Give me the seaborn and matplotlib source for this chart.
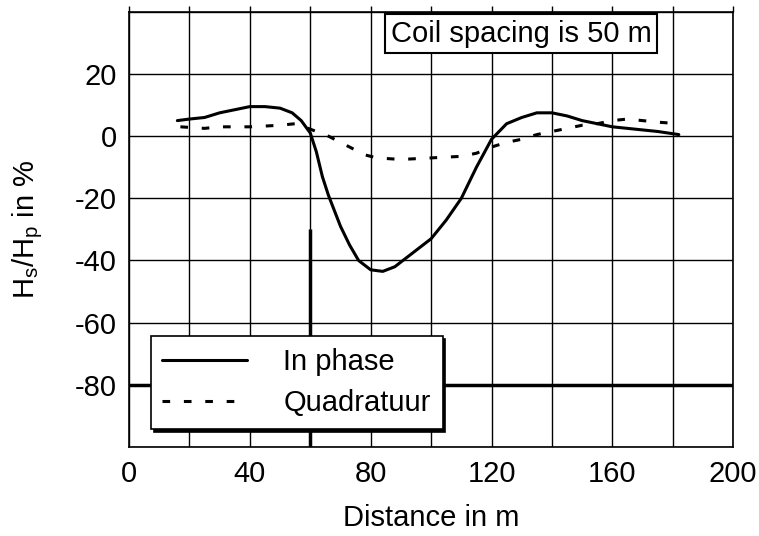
import numpy as np
import pandas as pd
import seaborn as sns
import matplotlib.pyplot as plt

# in phase component
x_inphase = [16, 20, 25, 30, 35, 40, 45, 50, 54, 57, 60, 62, 64, 66, 68, 70, 73, 76,
             80, 84, 88, 92, 96, 100, 105, 110, 115, 120, 125, 130, 135, 140, 145,
             150, 155, 160, 165, 170, 175, 182]
y_inphase = [5, 5.5, 6, 7.5, 8.5, 9.5, 9.5, 9, 7.5, 5, 1, -5, -13, -19, -24, -29, -35, -40,
             -43, -43.5, -42, -39, -36, -33, -27, -20, -10, -1, 4, 6, 7.5, 7.5, 6.5,
             5, 4, 3, 2.5, 2, 1.5, 0.5]

# quadrature component
x_quad = [17, 25, 30, 40, 50, 55, 58, 62, 66, 70, 74, 78, 82, 90, 100, 110, 115, 120,
          125, 130, 135, 140, 145, 150, 155, 160, 165, 170, 175, 182]
y_quad = [3, 2.5, 3, 3, 3.5, 4, 3, 1.5, 0, -2, -4, -6, -7, -7.5, -7, -6.5, -5.5, -3.5,
          -2, -1, 0.5, 1.5, 2.5, 3.5, 4, 5, 5.5, 5, 4.5, 4]

x_ticks = [0, 40, 80, 120, 160, 200]
y_ticks = [-80, -60, -40, -20, 0, 20]

df_in = pd.DataFrame({'Distance': x_inphase, 'Value': y_inphase})
df_q = pd.DataFrame({'Distance': x_quad, 'Value': y_quad})

sns.set_style('white', {'text.color': 'black', 'axes.labelcolor': 'black',
                        'xtick.color': 'black', 'ytick.color': 'black'})
plt.rcParams['font.family'] = ['Liberation Sans', 'DejaVu Sans']
fs = 21

fig = plt.figure(figsize=(7.59, 5.36), dpi=100)
ax = fig.add_axes([0.170, 0.166, 0.796, 0.812])

# odd heavy lines in the original
ax.axhline(-80, color='black', lw=2.5, zorder=1)
ax.vlines(60, -100, -30, color='black', lw=2.5, zorder=1)

sns.lineplot(data=df_in, x='Distance', y='Value', color='black', lw=2.2,
             sort=False, estimator=None, label='In phase', ax=ax, zorder=3)
sns.lineplot(data=df_q, x='Distance', y='Value', color='black', lw=2.2,
             linestyle=(0, (2.5, 4.5)), sort=False, estimator=None,
             label='Quadratuur', ax=ax, zorder=3)

ax.set_xlim(0, 200)
ax.set_ylim(-100, 40)
ax.set_xticks(np.arange(0, 201, 20))
ax.set_yticks(np.arange(-100, 41, 20))
ax.set_xticklabels([str(v) if v in x_ticks else '' for v in range(0, 201, 20)])
ax.set_yticklabels([str(v) if v in y_ticks else '' for v in range(-100, 41, 20)])
ax.grid(True, color='black', lw=1)
ax.tick_params(direction='out', length=4, width=1, color='black', labelcolor='black',
               labelsize=fs, top=True, right=False, pad=5)
for s in ax.spines.values():
    s.set_color('black')
    s.set_linewidth(1.2)

ax.set_xlabel('Distance in m', fontsize=fs, labelpad=12, color='black')
ax.set_ylabel(r'H$_\mathregular{s}$/H$_\mathregular{p}$ in %', fontsize=fs,
              labelpad=21, color='black')

leg = ax.legend(loc='lower left', bbox_to_anchor=(0.036, 0.042), fontsize=fs,
                frameon=True, fancybox=False, edgecolor='black', framealpha=1,
                handlelength=2.9, handletextpad=1.25, borderpad=0.4,
                labelspacing=0.45, borderaxespad=0,
                shadow={'color': 'black', 'alpha': 1, 'ox': 2, 'oy': -2})
leg.get_frame().set_linewidth(1.2)
for t in leg.get_texts():
    t.set_color('black')
leg.set_zorder(5)

ax.text(0.433, 0.982, 'Coil spacing is 50 m', transform=ax.transAxes, fontsize=fs,
        va='top', ha='left', zorder=6, color='black',
        bbox=dict(boxstyle='square,pad=0.2', fc='white', ec='black', lw=1.5))

fig.savefig('out.png', dpi=100)
